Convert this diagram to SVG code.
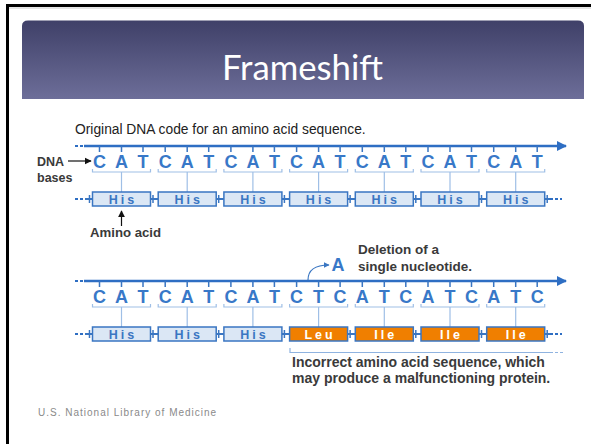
<svg xmlns="http://www.w3.org/2000/svg" width="591" height="444" viewBox="0 0 591 444">
<style>
.base{font-family:"Liberation Sans",Arial,sans-serif;font-weight:bold;font-size:18px;fill:#3878c8;text-anchor:middle}
.aa{font-family:"Liberation Sans",Arial,sans-serif;font-weight:bold;font-size:12.5px;letter-spacing:3px;text-anchor:middle}
.his{fill:#3a76c2}
.bad{fill:#ffffff}
.boxb{fill:#dbe7f5;stroke:#3a76c2;stroke-width:1.5}
.boxo{fill:#f07f00;stroke:#3a76c2;stroke-width:1.5}
.main{stroke:#2e6ec3;stroke-width:2.5;fill:none}
.dash{stroke:#2e6ec3;stroke-width:2;stroke-dasharray:3 2;fill:none}
.tick{stroke:#3a76c2;stroke-width:1.5}
.brk{stroke:#9fbfe6;stroke-width:1.2;fill:none}
.link{stroke:#3a76c2;stroke-width:2;fill:none}
.lbl{font-family:"Liberation Sans",Arial,sans-serif;font-weight:bold;fill:#3a3a3a}
</style>
<defs>
<linearGradient id="g" x1="0" y1="0" x2="0" y2="1">
<stop offset="0" stop-color="#3f4068"/>
<stop offset="1" stop-color="#6d6e99"/>
</linearGradient>
<marker id="bh" viewBox="0 0 10 10" refX="9" refY="5" markerWidth="4" markerHeight="4" orient="auto" markerUnits="strokeWidth"><path d="M0,0 L10,5 L0,10 z" fill="#2e6ec3"/></marker>
<marker id="kh" viewBox="0 0 10 10" refX="9" refY="5" markerWidth="6" markerHeight="6" orient="auto" markerUnits="strokeWidth"><path d="M0,0 L10,5 L0,10 z" fill="#111"/></marker>
<marker id="ch" viewBox="0 0 10 10" refX="9" refY="5" markerWidth="5" markerHeight="5" orient="auto" markerUnits="strokeWidth"><path d="M0,0 L10,5 L0,10 z" fill="#3a76c2"/></marker>
</defs>
<rect width="591" height="444" fill="#fff"/>
<rect x="7.5" y="5.5" width="600" height="460" fill="none" stroke="#000" stroke-width="3"/>
<line x1="9" y1="8" x2="591" y2="8" stroke="#c8c8c8" stroke-width="1"/>
<g id="title">
<path d="M22,99 V26 Q22,20.5 28,20.5 H578 Q584,20.5 584,26 V99 Z" fill="url(#g)"/>
<text x="302.5" y="80" font-family="Lato,'Open Sans',sans-serif" font-size="34" fill="#fff" text-anchor="middle" textLength="161" lengthAdjust="spacingAndGlyphs">Frameshift</text>
</g>
<text x="75" y="134" font-family="'Liberation Sans',Arial,sans-serif" font-size="13.8" fill="#222">Original DNA code for an amino acid sequence.</text>
<g id="connectors">
<line class="dash" x1="75" y1="146" x2="84" y2="146"/>
<line class="main" x1="84" y1="146" x2="566" y2="146" marker-end="url(#bh)"/>
<line class="dash" x1="75" y1="281" x2="84" y2="281"/>
<line class="main" x1="84" y1="281" x2="566" y2="281" marker-end="url(#bh)"/>
<path class="tick" d="M99.5,146V152M121.5,146V152M143,146V152M165.2,146V152M187.2,146V152M208.7,146V152M230.9,146V152M252.9,146V152M274.4,146V152M296.6,146V152M318.6,146V152M340.1,146V152M362.3,146V152M384.3,146V152M405.8,146V152M428,146V152M450,146V152M471.5,146V152M493.7,146V152M515.7,146V152M537.2,146V152"/>
<path class="tick" d="M99.5,281V287M121.5,281V287M143,281V287M165.2,281V287M187.2,281V287M208.7,281V287M230.9,281V287M252.9,281V287M274.4,281V287M296.6,281V287M318.6,281V287M340.1,281V287M362.3,281V287M384.3,281V287M405.8,281V287M428,281V287M450,281V287M471.5,281V287M493.7,281V287M515.7,281V287M537.2,281V287"/>
<path class="brk" d="M92.5,169V172H150.5V169M121.5,172V192 M158.2,169V172H216.2V169M187.2,172V192 M223.9,169V172H281.9V169M252.9,172V192 M289.6,169V172H347.6V169M318.6,172V192 M355.3,169V172H413.3V169M384.3,172V192 M421,169V172H479V169M450,172V192 M486.7,169V172H544.7V169M515.7,172V192"/>
<path class="brk" d="M92.5,304V307H150.5V304M121.5,307V327 M158.2,304V307H216.2V304M187.2,307V327 M223.9,304V307H281.9V304M252.9,307V327 M289.6,304V307H347.6V304M318.6,307V327 M355.3,304V307H413.3V304M384.3,307V327 M421,304V307H479V304M450,307V327 M486.7,304V307H544.7V304M515.7,307V327"/>
<line class="dash" x1="75" y1="199" x2="85" y2="199"/>
<path class="link" d="M85,199H92.5 M150.5,199H158.2 M216.2,199H223.9 M281.9,199H289.6 M347.6,199H355.3 M413.3,199H421 M479,199H486.7 M544.7,199H550"/>
<line class="dash" x1="550" y1="199" x2="562" y2="199"/>
<path class="tick" d="M153,195V203M218.7,195V203M284.4,195V203M350.1,195V203M415.8,195V203M481.5,195V203M547.2,195V203M89.5,195V203"/>
<line class="dash" x1="75" y1="334" x2="85" y2="334"/>
<path class="link" d="M85,334H92.5 M150.5,334H158.2 M216.2,334H223.9 M281.9,334H289.6 M347.6,334H355.3 M413.3,334H421 M479,334H486.7 M544.7,334H550"/>
<line class="dash" x1="550" y1="334" x2="562" y2="334"/>
<path class="tick" d="M153,330V338M218.7,330V338M284.4,330V338M350.1,330V338M415.8,330V338M481.5,330V338M547.2,330V338M89.5,330V338"/>
<line x1="68" y1="161" x2="91" y2="161" stroke="#111" stroke-width="1.2" marker-end="url(#kh)"/>
<line x1="121.5" y1="226" x2="121.5" y2="211" stroke="#111" stroke-width="1.2" marker-end="url(#kh)"/>
<path d="M308,280 Q308,265 329,265" fill="none" stroke="#3a76c2" stroke-width="1.2" marker-end="url(#ch)"/>
<path d="M290,348V352.5H550" fill="none" stroke="#8fb3e0" stroke-width="1.2"/>
<line x1="550" y1="352.5" x2="564" y2="352.5" stroke="#8fb3e0" stroke-width="1.2" stroke-dasharray="3 2"/>
</g>
<g id="dna-top">
<text class="base" x="99.5" y="168">C</text><text class="base" x="121.5" y="168">A</text><text class="base" x="143" y="168">T</text>
<text class="base" x="165.2" y="168">C</text><text class="base" x="187.2" y="168">A</text><text class="base" x="208.7" y="168">T</text>
<text class="base" x="230.9" y="168">C</text><text class="base" x="252.9" y="168">A</text><text class="base" x="274.4" y="168">T</text>
<text class="base" x="296.6" y="168">C</text><text class="base" x="318.6" y="168">A</text><text class="base" x="340.1" y="168">T</text>
<text class="base" x="362.3" y="168">C</text><text class="base" x="384.3" y="168">A</text><text class="base" x="405.8" y="168">T</text>
<text class="base" x="428" y="168">C</text><text class="base" x="450" y="168">A</text><text class="base" x="471.5" y="168">T</text>
<text class="base" x="493.7" y="168">C</text><text class="base" x="515.7" y="168">A</text><text class="base" x="537.2" y="168">T</text>
</g>
<g id="aa-top">
<rect class="boxb" x="92.5" y="192" width="58" height="14"/><text class="aa his" x="123" y="203.5">His</text>
<rect class="boxb" x="158.2" y="192" width="58" height="14"/><text class="aa his" x="188.7" y="203.5">His</text>
<rect class="boxb" x="223.9" y="192" width="58" height="14"/><text class="aa his" x="254.4" y="203.5">His</text>
<rect class="boxb" x="289.6" y="192" width="58" height="14"/><text class="aa his" x="320.1" y="203.5">His</text>
<rect class="boxb" x="355.3" y="192" width="58" height="14"/><text class="aa his" x="385.8" y="203.5">His</text>
<rect class="boxb" x="421" y="192" width="58" height="14"/><text class="aa his" x="451.5" y="203.5">His</text>
<rect class="boxb" x="486.7" y="192" width="58" height="14"/><text class="aa his" x="517.2" y="203.5">His</text>
</g>
<g id="dna-bottom">
<text class="base" x="99.5" y="303">C</text><text class="base" x="121.5" y="303">A</text><text class="base" x="143" y="303">T</text>
<text class="base" x="165.2" y="303">C</text><text class="base" x="187.2" y="303">A</text><text class="base" x="208.7" y="303">T</text>
<text class="base" x="230.9" y="303">C</text><text class="base" x="252.9" y="303">A</text><text class="base" x="274.4" y="303">T</text>
<text class="base" x="296.6" y="303">C</text><text class="base" x="318.6" y="303">T</text><text class="base" x="340.1" y="303">C</text>
<text class="base" x="362.3" y="303">A</text><text class="base" x="384.3" y="303">T</text><text class="base" x="405.8" y="303">C</text>
<text class="base" x="428" y="303">A</text><text class="base" x="450" y="303">T</text><text class="base" x="471.5" y="303">C</text>
<text class="base" x="493.7" y="303">A</text><text class="base" x="515.7" y="303">T</text><text class="base" x="537.2" y="303">C</text>
</g>
<g id="aa-bottom">
<rect class="boxb" x="92.5" y="327" width="58" height="14"/><text class="aa his" x="123" y="338.5">His</text>
<rect class="boxb" x="158.2" y="327" width="58" height="14"/><text class="aa his" x="188.7" y="338.5">His</text>
<rect class="boxb" x="223.9" y="327" width="58" height="14"/><text class="aa his" x="254.4" y="338.5">His</text>
<rect class="boxo" x="289.6" y="327" width="58" height="14"/><text class="aa bad" x="320.1" y="338.5">Leu</text>
<rect class="boxo" x="355.3" y="327" width="58" height="14"/><text class="aa bad" x="385.8" y="338.5">Ile</text>
<rect class="boxo" x="421" y="327" width="58" height="14"/><text class="aa bad" x="451.5" y="338.5">Ile</text>
<rect class="boxo" x="486.7" y="327" width="58" height="14"/><text class="aa bad" x="517.2" y="338.5">Ile</text>
</g>
<g id="labels">
<text class="lbl" x="37" y="165.5" font-size="12.5">DNA</text>
<text class="lbl" x="37" y="182" font-size="12.5">bases</text>
<text class="lbl" x="90" y="236.5" font-size="13.2">Amino acid</text>
<text class="base" x="338" y="271">A</text>
<text class="lbl" x="358" y="254" font-size="13.5" fill="#444">Deletion of a</text>
<text class="lbl" x="358" y="270.5" font-size="13.5" fill="#444">single nucleotide.</text>
<text class="lbl" x="292" y="367" font-size="14" fill="#444">Incorrect amino acid sequence, which</text>
<text class="lbl" x="292" y="383" font-size="14" fill="#444">may produce a malfunctioning protein.</text>
<text x="38" y="416" font-family="'Liberation Sans',Arial,sans-serif" font-size="10" fill="#8a8a8a" letter-spacing="1">U.S. National Library of Medicine</text>
</g>
</svg>
